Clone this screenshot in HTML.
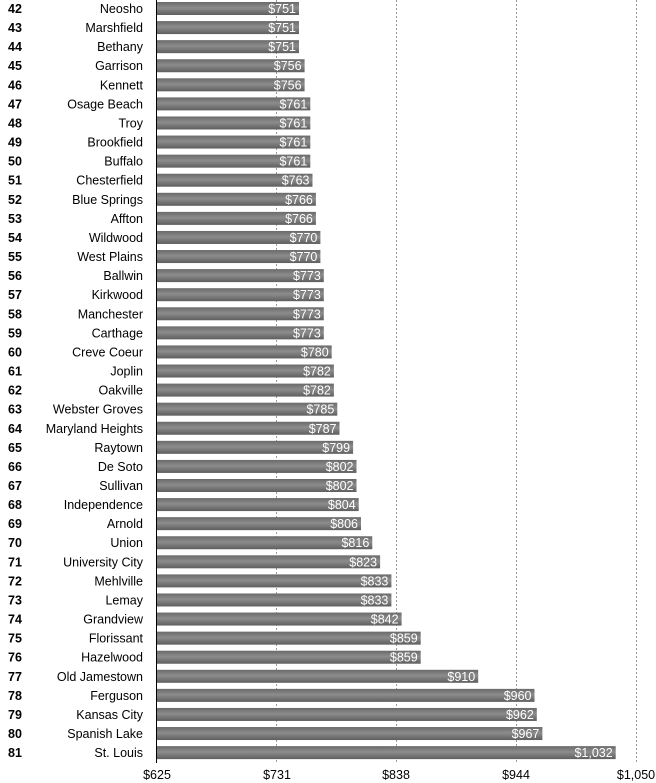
<!DOCTYPE html>
<html><head><meta charset="utf-8"><style>
html,body{margin:0;padding:0;background:#fff;width:656px;height:783px;overflow:hidden}
svg{display:block;font-family:"Liberation Sans",Arial,sans-serif;font-size:12.5px}
.n{font-weight:bold;fill:#000}
.c{text-anchor:end;fill:#000}
.v{text-anchor:end;fill:#fff}
</style></head><body>
<svg width="656" height="783" viewBox="0 0 656 783">
<defs><linearGradient id="g" x1="0" y1="0" x2="0" y2="1">
<stop offset="0" stop-color="#6a6a6a"/><stop offset="0.45" stop-color="#8c8c8c"/><stop offset="1" stop-color="#5e5e5e"/></linearGradient></defs>
<g stroke="#999" stroke-width="1" stroke-dasharray="2,2">
<line x1="276.5" y1="0" x2="276.5" y2="763"/><line x1="396.5" y1="0" x2="396.5" y2="763"/><line x1="516.5" y1="0" x2="516.5" y2="763"/><line x1="636.5" y1="0" x2="636.5" y2="763"/>
</g>
<g id="rows">
<g transform="translate(0,2)"><text class="n" x="8" y="11">42</text><text class="c" x="143" y="11">Neosho</text><rect x="157" y="0" width="142" height="13" fill="url(#g)"/><text class="v" x="296" y="11">$751</text></g>
<g transform="translate(0,21.08)"><text class="n" x="8" y="11">43</text><text class="c" x="143" y="11">Marshfield</text><rect x="157" y="0" width="142" height="13" fill="url(#g)"/><text class="v" x="296" y="11">$751</text></g>
<g transform="translate(0,40.16)"><text class="n" x="8" y="11">44</text><text class="c" x="143" y="11">Bethany</text><rect x="157" y="0" width="142" height="13" fill="url(#g)"/><text class="v" x="296" y="11">$751</text></g>
<g transform="translate(0,59.24)"><text class="n" x="8" y="11">45</text><text class="c" x="143" y="11">Garrison</text><rect x="157" y="0" width="147.6" height="13" fill="url(#g)"/><text class="v" x="301.6" y="11">$756</text></g>
<g transform="translate(0,78.32)"><text class="n" x="8" y="11">46</text><text class="c" x="143" y="11">Kennett</text><rect x="157" y="0" width="147.6" height="13" fill="url(#g)"/><text class="v" x="301.6" y="11">$756</text></g>
<g transform="translate(0,97.4)"><text class="n" x="8" y="11">47</text><text class="c" x="143" y="11">Osage Beach</text><rect x="157" y="0" width="153.3" height="13" fill="url(#g)"/><text class="v" x="307.3" y="11">$761</text></g>
<g transform="translate(0,116.48)"><text class="n" x="8" y="11">48</text><text class="c" x="143" y="11">Troy</text><rect x="157" y="0" width="153.3" height="13" fill="url(#g)"/><text class="v" x="307.3" y="11">$761</text></g>
<g transform="translate(0,135.56)"><text class="n" x="8" y="11">49</text><text class="c" x="143" y="11">Brookfield</text><rect x="157" y="0" width="153.3" height="13" fill="url(#g)"/><text class="v" x="307.3" y="11">$761</text></g>
<g transform="translate(0,154.64)"><text class="n" x="8" y="11">50</text><text class="c" x="143" y="11">Buffalo</text><rect x="157" y="0" width="153.3" height="13" fill="url(#g)"/><text class="v" x="307.3" y="11">$761</text></g>
<g transform="translate(0,173.72)"><text class="n" x="8" y="11">51</text><text class="c" x="143" y="11">Chesterfield</text><rect x="157" y="0" width="155.5" height="13" fill="url(#g)"/><text class="v" x="309.5" y="11">$763</text></g>
<g transform="translate(0,192.8)"><text class="n" x="8" y="11">52</text><text class="c" x="143" y="11">Blue Springs</text><rect x="157" y="0" width="158.9" height="13" fill="url(#g)"/><text class="v" x="312.9" y="11">$766</text></g>
<g transform="translate(0,211.88)"><text class="n" x="8" y="11">53</text><text class="c" x="143" y="11">Affton</text><rect x="157" y="0" width="158.9" height="13" fill="url(#g)"/><text class="v" x="312.9" y="11">$766</text></g>
<g transform="translate(0,230.96)"><text class="n" x="8" y="11">54</text><text class="c" x="143" y="11">Wildwood</text><rect x="157" y="0" width="163.4" height="13" fill="url(#g)"/><text class="v" x="317.4" y="11">$770</text></g>
<g transform="translate(0,250.04)"><text class="n" x="8" y="11">55</text><text class="c" x="143" y="11">West Plains</text><rect x="157" y="0" width="163.4" height="13" fill="url(#g)"/><text class="v" x="317.4" y="11">$770</text></g>
<g transform="translate(0,269.12)"><text class="n" x="8" y="11">56</text><text class="c" x="143" y="11">Ballwin</text><rect x="157" y="0" width="166.8" height="13" fill="url(#g)"/><text class="v" x="320.8" y="11">$773</text></g>
<g transform="translate(0,288.2)"><text class="n" x="8" y="11">57</text><text class="c" x="143" y="11">Kirkwood</text><rect x="157" y="0" width="166.8" height="13" fill="url(#g)"/><text class="v" x="320.8" y="11">$773</text></g>
<g transform="translate(0,307.28)"><text class="n" x="8" y="11">58</text><text class="c" x="143" y="11">Manchester</text><rect x="157" y="0" width="166.8" height="13" fill="url(#g)"/><text class="v" x="320.8" y="11">$773</text></g>
<g transform="translate(0,326.36)"><text class="n" x="8" y="11">59</text><text class="c" x="143" y="11">Carthage</text><rect x="157" y="0" width="166.8" height="13" fill="url(#g)"/><text class="v" x="320.8" y="11">$773</text></g>
<g transform="translate(0,345.44)"><text class="n" x="8" y="11">60</text><text class="c" x="143" y="11">Creve Coeur</text><rect x="157" y="0" width="174.7" height="13" fill="url(#g)"/><text class="v" x="328.7" y="11">$780</text></g>
<g transform="translate(0,364.52)"><text class="n" x="8" y="11">61</text><text class="c" x="143" y="11">Joplin</text><rect x="157" y="0" width="176.9" height="13" fill="url(#g)"/><text class="v" x="330.9" y="11">$782</text></g>
<g transform="translate(0,383.6)"><text class="n" x="8" y="11">62</text><text class="c" x="143" y="11">Oakville</text><rect x="157" y="0" width="176.9" height="13" fill="url(#g)"/><text class="v" x="330.9" y="11">$782</text></g>
<g transform="translate(0,402.68)"><text class="n" x="8" y="11">63</text><text class="c" x="143" y="11">Webster Groves</text><rect x="157" y="0" width="180.3" height="13" fill="url(#g)"/><text class="v" x="334.3" y="11">$785</text></g>
<g transform="translate(0,421.76)"><text class="n" x="8" y="11">64</text><text class="c" x="143" y="11">Maryland Heights</text><rect x="157" y="0" width="182.5" height="13" fill="url(#g)"/><text class="v" x="336.5" y="11">$787</text></g>
<g transform="translate(0,440.84)"><text class="n" x="8" y="11">65</text><text class="c" x="143" y="11">Raytown</text><rect x="157" y="0" width="196.1" height="13" fill="url(#g)"/><text class="v" x="350.1" y="11">$799</text></g>
<g transform="translate(0,459.92)"><text class="n" x="8" y="11">66</text><text class="c" x="143" y="11">De Soto</text><rect x="157" y="0" width="199.5" height="13" fill="url(#g)"/><text class="v" x="353.5" y="11">$802</text></g>
<g transform="translate(0,479)"><text class="n" x="8" y="11">67</text><text class="c" x="143" y="11">Sullivan</text><rect x="157" y="0" width="199.5" height="13" fill="url(#g)"/><text class="v" x="353.5" y="11">$802</text></g>
<g transform="translate(0,498.08)"><text class="n" x="8" y="11">68</text><text class="c" x="143" y="11">Independence</text><rect x="157" y="0" width="201.7" height="13" fill="url(#g)"/><text class="v" x="355.7" y="11">$804</text></g>
<g transform="translate(0,517.16)"><text class="n" x="8" y="11">69</text><text class="c" x="143" y="11">Arnold</text><rect x="157" y="0" width="204" height="13" fill="url(#g)"/><text class="v" x="358" y="11">$806</text></g>
<g transform="translate(0,536.24)"><text class="n" x="8" y="11">70</text><text class="c" x="143" y="11">Union</text><rect x="157" y="0" width="215.3" height="13" fill="url(#g)"/><text class="v" x="369.3" y="11">$816</text></g>
<g transform="translate(0,555.32)"><text class="n" x="8" y="11">71</text><text class="c" x="143" y="11">University City</text><rect x="157" y="0" width="223.1" height="13" fill="url(#g)"/><text class="v" x="377.1" y="11">$823</text></g>
<g transform="translate(0,574.4)"><text class="n" x="8" y="11">72</text><text class="c" x="143" y="11">Mehlville</text><rect x="157" y="0" width="234.4" height="13" fill="url(#g)"/><text class="v" x="388.4" y="11">$833</text></g>
<g transform="translate(0,593.48)"><text class="n" x="8" y="11">73</text><text class="c" x="143" y="11">Lemay</text><rect x="157" y="0" width="234.4" height="13" fill="url(#g)"/><text class="v" x="388.4" y="11">$833</text></g>
<g transform="translate(0,612.56)"><text class="n" x="8" y="11">74</text><text class="c" x="143" y="11">Grandview</text><rect x="157" y="0" width="244.6" height="13" fill="url(#g)"/><text class="v" x="398.6" y="11">$842</text></g>
<g transform="translate(0,631.64)"><text class="n" x="8" y="11">75</text><text class="c" x="143" y="11">Florissant</text><rect x="157" y="0" width="263.7" height="13" fill="url(#g)"/><text class="v" x="417.7" y="11">$859</text></g>
<g transform="translate(0,650.72)"><text class="n" x="8" y="11">76</text><text class="c" x="143" y="11">Hazelwood</text><rect x="157" y="0" width="263.7" height="13" fill="url(#g)"/><text class="v" x="417.7" y="11">$859</text></g>
<g transform="translate(0,669.8)"><text class="n" x="8" y="11">77</text><text class="c" x="143" y="11">Old Jamestown</text><rect x="157" y="0" width="321.2" height="13" fill="url(#g)"/><text class="v" x="475.2" y="11">$910</text></g>
<g transform="translate(0,688.88)"><text class="n" x="8" y="11">78</text><text class="c" x="143" y="11">Ferguson</text><rect x="157" y="0" width="377.5" height="13" fill="url(#g)"/><text class="v" x="531.5" y="11">$960</text></g>
<g transform="translate(0,707.96)"><text class="n" x="8" y="11">79</text><text class="c" x="143" y="11">Kansas City</text><rect x="157" y="0" width="379.8" height="13" fill="url(#g)"/><text class="v" x="533.8" y="11">$962</text></g>
<g transform="translate(0,727.04)"><text class="n" x="8" y="11">80</text><text class="c" x="143" y="11">Spanish Lake</text><rect x="157" y="0" width="385.4" height="13" fill="url(#g)"/><text class="v" x="539.4" y="11">$967</text></g>
<g transform="translate(0,746.12)"><text class="n" x="8" y="11">81</text><text class="c" x="143" y="11">St. Louis</text><rect x="157" y="0" width="458.7" height="13" fill="url(#g)"/><text class="v" x="612.7" y="11">$1,032</text></g>
</g>
<line x1="156.5" y1="0" x2="156.5" y2="763" stroke="#000" stroke-width="1"/>
<g text-anchor="middle" fill="#000">
<text x="157" y="779">$625</text><text x="277" y="779">$731</text><text x="396" y="779">$838</text><text x="516" y="779">$944</text><text x="636" y="779">$1,050</text>
</g>
</svg>
</body></html>
